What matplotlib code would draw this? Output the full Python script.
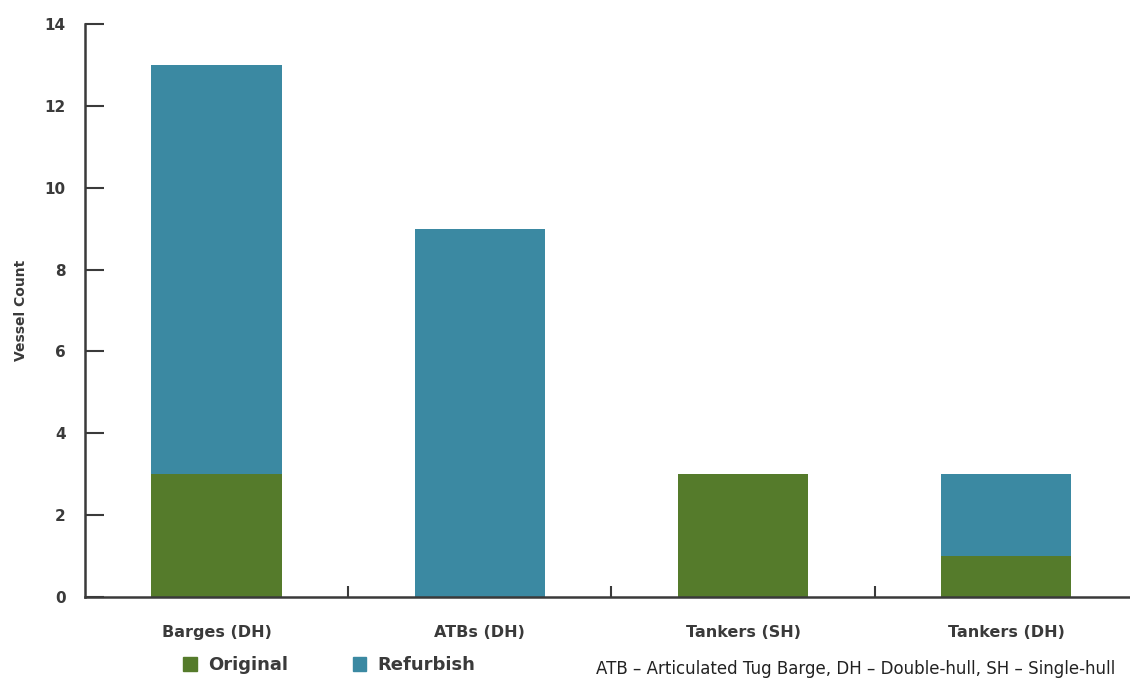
import matplotlib.pyplot as plt
from matplotlib.patches import Patch

# Vessel counts by type
categories = ['Barges (DH)', 'ATBs (DH)', 'Tankers (SH)', 'Tankers (DH)']
original = [3, 0, 3, 1]
refurbish = [10, 9, 0, 2]
y_ticks = [0, 2, 4, 6, 8, 10, 12, 14]

green = '#557b2b'
blue = '#3b89a2'
ink = '#3a3a3a'

plt.rcParams['font.family'] = 'DejaVu Sans'

fig = plt.figure(figsize=(11.3, 6.81), dpi=100)
ax = fig.add_axes([0.0752, 0.1233, 0.9248, 0.8415])

x = list(range(len(categories)))
ax.bar(x, original, width=0.495, color=green)
ax.bar(x, refurbish, width=0.495, bottom=original, color=blue)

ax.set_xlim(-0.5, 3.47)
ax.set_ylim(0, 14)
ax.set_yticks(y_ticks)
ax.set_yticklabels([str(v) for v in y_ticks], fontsize=11, fontweight='bold', color=ink)
ax.set_xticks(x)
ax.set_xticklabels(categories, fontsize=11.5, fontweight='bold', color=ink)
ax.set_xticks([0.5, 1.5, 2.5], minor=True)

ax.tick_params(axis='y', direction='in', length=14, width=1.5, color=ink, pad=14)
ax.tick_params(axis='x', which='major', length=0, pad=20)
ax.tick_params(axis='x', which='minor', direction='in', length=8, width=1.5, color=ink)

for side in ['top', 'right']:
    ax.spines[side].set_visible(False)
for side in ['left', 'bottom']:
    ax.spines[side].set_color(ink)
    ax.spines[side].set_linewidth(1.8)

ax.set_ylabel('Vessel Count', fontsize=10, fontweight='bold', color=ink, labelpad=12)

handles = [Patch(color=green, label='Original'), Patch(color=blue, label='Refurbish')]
fig.legend(handles=handles, loc='lower left', bbox_to_anchor=(0.148, -0.014), ncol=2,
           frameon=False, handlelength=0.75, handleheight=0.75, handletextpad=0.6,
           columnspacing=3.6, prop={'size': 13, 'weight': 'bold'}, labelcolor=ink)

fig.text(0.527, 0.004, 'ATB – Articulated Tug Barge, DH – Double-hull, SH – Single-hull',
         fontsize=12, color='#222222', va='bottom')

fig.savefig('out.png', dpi=100)
